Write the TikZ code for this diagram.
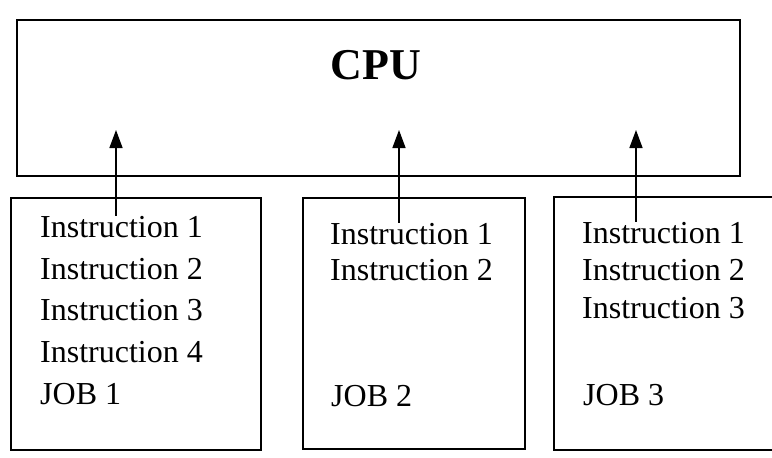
\documentclass[tikz,border=0pt]{standalone}
\usepackage{fontspec}
\setmainfont{Liberation Serif}
\usetikzlibrary{arrows.meta, positioning}
\newcommand{\instr}[1]{Instruction #1}

\begin{document}
\begin{tikzpicture}[x=1pt,y=-1pt,
  box/.style={draw,line width=2.2pt,inner sep=0pt,anchor=north west},
  txt/.style={anchor=base west,inner sep=0pt,font=\fontsize{32}{38}\selectfont},
  feed/.style={line width=1.4pt,-{Triangle[length=18pt,width=13pt]}}]
\useasboundingbox (0,0) rectangle (772,458);
\clip (0,0) rectangle (772,458);
% cpu box
\node[box,minimum width=723pt,minimum height=156pt] (cpu) at (16,19) {};
\node[font=\bfseries\fontsize{44}{50}\selectfont] (cpulabel) at (376,65) {CPU};
% job boxes
\node[box,minimum width=250pt,minimum height=252pt] (job1) at (10,197) {};
\node[box,minimum width=222pt,minimum height=251pt] (job2) at (302,197) {};
\node[box,minimum width=260pt,minimum height=253pt] (job3) at (553,196) {};
% job 1
\node[txt] (j1a) at (40,237) {\instr{1}};
\node[txt] (j1b) at (40,279) {\instr{2}};
\node[txt] (j1c) at (40,320) {\instr{3}};
\node[txt] (j1d) at (40,362) {\instr{4}};
\node[txt] (j1name) at (40,404) {JOB 1};
% job 2
\node[txt] (j2a) at (330,244) {\instr{1}};
\node[txt] (j2b) at (330,280) {\instr{2}};
\node[txt] (j2name) at (331,406) {JOB 2};
% job 3
\node[txt] (j3a) at (582,243) {\instr{1}};
\node[txt] (j3b) at (582,280) {\instr{2}};
\node[txt] (j3c) at (582,318) {\instr{3}};
\node[txt] (j3name) at (583,405) {JOB 3};
% instructions fed to the cpu
\coordinate (t1) at (116,130);
\coordinate (t2) at (399,130);
\coordinate (t3) at (636,130);
\draw[feed] (t1 |- j1a.north) -- (t1);
\draw[feed] (t2 |- j2a.north) -- (t2);
\draw[feed] (t3 |- j3a.north) -- (t3);
\end{tikzpicture}
\end{document}
